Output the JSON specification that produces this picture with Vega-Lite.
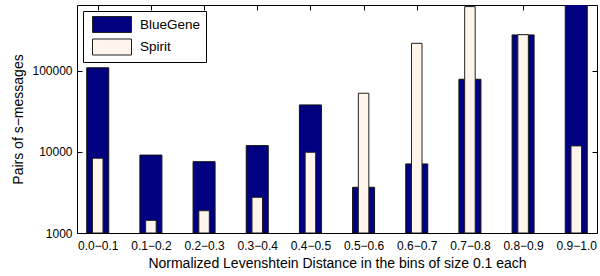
{
  "$schema": "https://vega.github.io/schema/vega-lite/v6.json",
  "width": 520,
  "height": 228,
  "autosize": {"type": "none"},
  "padding": {"left": 77, "top": 5, "right": 3, "bottom": 43},
  "config": {
    "view": {"stroke": null},
    "font": "Liberation Sans",
    "axis": {
      "domainColor": "black",
      "domainWidth": 1,
      "tickColor": "black",
      "labelColor": "black",
      "titleColor": "black",
      "labelFont": "Liberation Sans",
      "titleFont": "Liberation Sans",
      "grid": false,
      "tickSize": -5
    }
  },
  "data": {
    "values": [
      {"bin": "0.0−0.1", "system": "BlueGene", "pairs": 108000},
      {"bin": "0.1−0.2", "system": "BlueGene", "pairs": 9100},
      {"bin": "0.2−0.3", "system": "BlueGene", "pairs": 7550},
      {"bin": "0.3−0.4", "system": "BlueGene", "pairs": 11900},
      {"bin": "0.4−0.5", "system": "BlueGene", "pairs": 37700},
      {"bin": "0.5−0.6", "system": "BlueGene", "pairs": 3650},
      {"bin": "0.6−0.7", "system": "BlueGene", "pairs": 7080},
      {"bin": "0.7−0.8", "system": "BlueGene", "pairs": 78000},
      {"bin": "0.8−0.9", "system": "BlueGene", "pairs": 274000},
      {"bin": "0.9−1.0", "system": "BlueGene", "pairs": 720000},
      {"bin": "0.0−0.1", "system": "Spirit", "pairs": 8320},
      {"bin": "0.1−0.2", "system": "Spirit", "pairs": 1430},
      {"bin": "0.2−0.3", "system": "Spirit", "pairs": 1880},
      {"bin": "0.3−0.4", "system": "Spirit", "pairs": 2750},
      {"bin": "0.4−0.5", "system": "Spirit", "pairs": 9860},
      {"bin": "0.5−0.6", "system": "Spirit", "pairs": 52500},
      {"bin": "0.6−0.7", "system": "Spirit", "pairs": 216000},
      {"bin": "0.7−0.8", "system": "Spirit", "pairs": 612000},
      {"bin": "0.8−0.9", "system": "Spirit", "pairs": 276000},
      {"bin": "0.9−1.0", "system": "Spirit", "pairs": 11800}
    ]
  },
  "layer": [
    {
      "transform": [{"filter": "datum.system === 'BlueGene'"}],
      "mark": {"type": "bar", "width": 22, "clip": true, "stroke": "#111", "strokeWidth": 1},
      "encoding": {
        "x": {
          "field": "bin", "type": "ordinal", "sort": null,
          "scale": {"type": "point", "padding": 0.39},
          "axis": {"orient": "bottom", "labelAngle": 0, "labelFontSize": 12, "labelPadding": 12,
                   "title": "Normalized Levenshtein Distance in the bins of size 0.1 each",
                   "titleFontSize": 14, "titleFontWeight": "normal", "titlePadding": 5}
        },
        "y": {
          "field": "pairs", "type": "quantitative",
          "scale": {"type": "log", "domain": [1000, 640000], "nice": false},
          "axis": {"orient": "left", "values": [1000, 10000, 100000], "format": "d", "labelFontSize": 12,
                   "labelPadding": 10, "title": "Pairs of s−messages", "titleFontSize": 14,
                   "titleFontWeight": "normal", "titlePadding": 6}
        },
        "y2": {"datum": 1000},
        "color": {
          "field": "system", "type": "nominal",
          "scale": {"domain": ["BlueGene", "Spirit"], "range": ["#000080", "#FFF5EB"]},
          "legend": {
            "title": null, "orient": "top-left", "offset": 6,
            "symbolType": "M-1,-1H3.875V1H-1Z", "symbolSize": 256,
            "symbolStrokeColor": "#222", "symbolStrokeWidth": 1, "symbolOpacity": 1,
            "symbolOffset": 4,
            "labelFontSize": 13.5, "labelColor": "black", "labelOffset": 31,
            "rowPadding": 1.5, "padding": 5, "strokeColor": "black", "fillColor": "white"
          }
        }
      }
    },
    {
      "transform": [{"filter": "datum.system === 'Spirit'"}],
      "mark": {"type": "bar", "width": 10.5, "clip": true, "stroke": "#222", "strokeWidth": 1},
      "encoding": {
        "x": {
          "field": "bin", "type": "ordinal", "sort": null,
          "axis": {"orient": "top", "labels": false, "title": null}
        },
        "y": {
          "field": "pairs", "type": "quantitative",
          "axis": {"orient": "right", "values": [1000, 10000, 100000], "labels": false, "title": null}
        },
        "y2": {"datum": 1000},
        "color": {"field": "system", "type": "nominal"}
      }
    }
  ],
  "resolve": {"axis": {"x": "independent", "y": "independent"}}
}
